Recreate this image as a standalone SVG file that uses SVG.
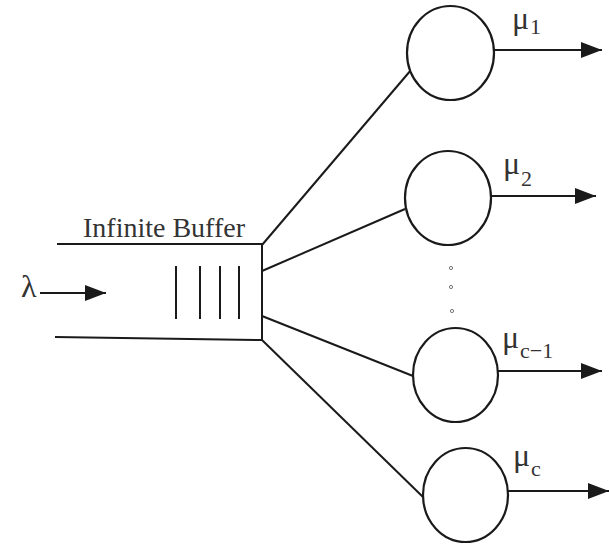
<svg xmlns="http://www.w3.org/2000/svg" width="609" height="545" viewBox="0 0 609 545">
<style>
.ln{stroke:#1a1a1a;stroke-width:2;fill:none}
.srv{stroke:#1a1a1a;stroke-width:2.2;fill:#fff}
.t{font-family:"Liberation Serif","Times New Roman",serif;fill:#333}
.mu{font-size:32px}
.sub{font-size:22px}
.dot{stroke:#777;stroke-width:1;fill:none}
</style>
<defs>
<marker id="ah" markerWidth="21" markerHeight="16" refX="21" refY="8" orient="auto" markerUnits="userSpaceOnUse">
<path d="M0,0 L21,8 L0,16 Z" fill="#1a1a1a"/>
</marker>
</defs>
<g id="connectors">
<line class="ln" x1="262" y1="245" x2="411" y2="70"/>
<line class="ln" x1="262" y1="271" x2="405" y2="209"/>
<line class="ln" x1="262" y1="316" x2="413" y2="376"/>
<line class="ln" x1="262" y1="340" x2="423" y2="497"/>
<line class="ln" x1="40" y1="293" x2="106" y2="293" marker-end="url(#ah)"/>
<line class="ln" x1="494" y1="50" x2="602" y2="50" marker-end="url(#ah)"/>
<line class="ln" x1="491" y1="196" x2="596" y2="196" marker-end="url(#ah)"/>
<line class="ln" x1="498" y1="371" x2="602" y2="371" marker-end="url(#ah)"/>
<line class="ln" x1="508" y1="491" x2="609" y2="491" marker-end="url(#ah)"/>
</g>
<g id="buffer">
<text class="t" x="83" y="237" font-size="28" textLength="162" lengthAdjust="spacingAndGlyphs">Infinite Buffer</text>
<line class="ln" x1="57" y1="244" x2="262" y2="244"/>
<line class="ln" x1="55" y1="337" x2="262" y2="340"/>
<line class="ln" x1="262" y1="243" x2="262" y2="341"/>
<line class="ln" x1="176" y1="266" x2="176" y2="319"/>
<line class="ln" x1="200" y1="266" x2="200" y2="319"/>
<line class="ln" x1="220" y1="266" x2="220" y2="319"/>
<line class="ln" x1="239" y1="266" x2="239" y2="319"/>
</g>
<g id="arrival">
<text class="t" x="21" y="297" font-size="32">λ</text>
</g>
<g id="server1">
<ellipse class="srv" cx="450.5" cy="53" rx="43.5" ry="47"/>
<text class="t mu" x="512" y="29">μ</text>
<text class="t sub" x="530" y="34">1</text>
</g>
<g id="server2">
<ellipse class="srv" cx="448" cy="198" rx="43" ry="47"/>
<text class="t mu" x="503" y="174">μ</text>
<text class="t sub" x="521" y="186">2</text>
</g>
<g id="dots">
<circle class="dot" cx="451" cy="268" r="1.6"/>
<circle class="dot" cx="451" cy="287" r="1.6"/>
<circle class="dot" cx="452" cy="311" r="1.6"/>
</g>
<g id="server3">
<ellipse class="srv" cx="455.5" cy="375" rx="42.5" ry="47"/>
<text class="t mu" x="502" y="348">μ</text>
<text class="t sub" x="520" y="358">c−1</text>
</g>
<g id="server4">
<ellipse class="srv" cx="465.5" cy="495" rx="42.5" ry="47"/>
<text class="t mu" x="513" y="466">μ</text>
<text class="t sub" x="531" y="476">c</text>
</g>
</svg>
